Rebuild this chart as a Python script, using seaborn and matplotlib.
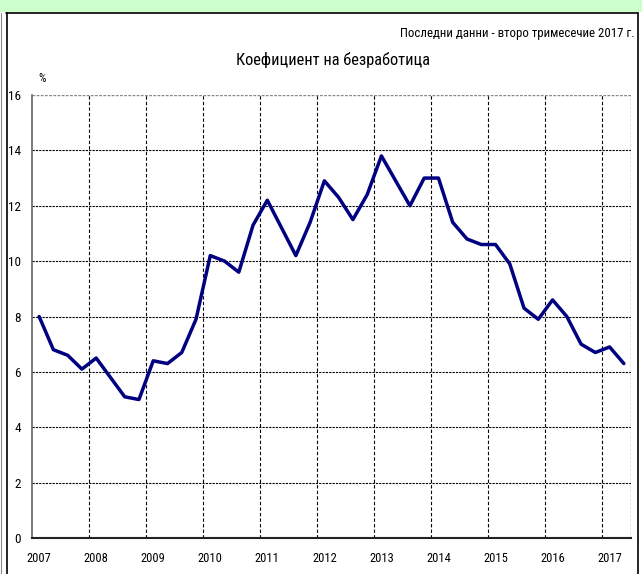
import matplotlib

matplotlib.use("Agg")
import matplotlib.pyplot as plt  # noqa: E402
import pandas as pd  # noqa: E402
import seaborn as sns  # noqa: E402
from matplotlib import font_manager  # noqa: E402
from matplotlib.lines import Line2D  # noqa: E402
from matplotlib.patches import Rectangle  # noqa: E402

# quarterly unemployment rate, 2007 Q1 .. 2017 Q2
years = list(range(2007, 2018))
quarters = [f"{y}Q{q}" for y in years for q in range(1, 5)][:42]
rate = [
    8.0, 6.8, 6.6, 6.1,
    6.5, 5.8, 5.1, 5.0,
    6.4, 6.3, 6.7, 7.9,
    10.2, 10.0, 9.6, 11.3,
    12.2, 11.2, 10.2, 11.4,
    12.9, 12.3, 11.5, 12.4,
    13.8, 12.9, 12.0, 13.0,
    13.0, 11.4, 10.8, 10.6,
    10.6, 9.9, 8.3, 7.9,
    8.6, 8.0, 7.0, 6.7,
    6.9, 6.3,
]
y_ticks = [0, 2, 4, 6, 8, 10, 12, 14, 16]

title = "Коефициент на безработица"
subtitle = "Последни данни - второ тримесечие 2017 г."

df = pd.DataFrame({"quarter": quarters, "rate": rate})
df["pos"] = range(len(df))

sns.set_style("white")
# pick a narrow face if one is around
names = {f.name for f in font_manager.fontManager.ttflist}
narrow = [n for n in ["Liberation Sans Narrow", "DejaVu Sans Condensed", "Roboto Condensed"] if n in names]
plt.rcParams["font.family"] = narrow + ["DejaVu Sans"]
plt.rcParams["font.stretch"] = "condensed"
plt.rcParams["text.color"] = "black"
plt.rcParams["xtick.color"] = "black"
plt.rcParams["ytick.color"] = "black"

fig = plt.figure(figsize=(6.42, 5.74), dpi=100)
ax = fig.add_axes([32 / 642, 1 - 538 / 574, (631 - 32) / 642, (538 - 95) / 574])

# light green strip and frame of the original page
fig.patches.append(Rectangle((0, 1 - 12 / 574), 1, 12 / 574, transform=fig.transFigure,
                             facecolor="#ccffcc", edgecolor="none"))
fig.lines.append(Line2D([6 / 642, 638 / 642], [1 - 13 / 574] * 2, transform=fig.transFigure,
                        color="black", lw=1.2))
fig.lines.append(Line2D([7 / 642] * 2, [0, 1 - 13 / 574], transform=fig.transFigure,
                        color="black", lw=1.2))
fig.lines.append(Line2D([1.5 / 642] * 2, [0, 1 - 13 / 574], transform=fig.transFigure,
                        color="#888888", lw=0.8))
fig.lines.append(Line2D([638 / 642] * 2, [0, 1 - 13 / 574], transform=fig.transFigure,
                        color="black", lw=1.2))

sns.lineplot(data=df, x="pos", y="rate", ax=ax, color="#000080", linewidth=2.5)

n = len(df)
ax.set_xlim(-0.5, n - 0.5)
ax.set_ylim(0, 16)
ax.set_yticks(y_ticks)
ax.set_yticklabels([str(v) for v in y_ticks], fontsize=9.5)

# year labels centred on first quarter, ticks/grid on year boundaries
ax.set_xticks(range(0, n, 4))
ax.set_xticklabels([str(y) for y in years], fontsize=9)
ax.set_xticks([i - 0.5 for i in range(4, n, 4)], minor=True)
ax.tick_params(axis="x", which="major", length=0, pad=10)
ax.tick_params(axis="x", which="minor", length=4, direction="inout", color="black")
ax.tick_params(axis="y", length=4, direction="out", color="#555555", pad=4)

ax.grid(False)
for y in y_ticks[1:-1]:
    ax.axhline(y, color="black", lw=0.8, ls=(0, (2, 1)), zorder=0)
ax.axhline(16, color="#888888", lw=1.0, ls=(0, (2, 1)), zorder=0)
for xb in range(4, n, 4):
    ax.axvline(xb - 0.5, color="black", lw=0.8, ls=(0, (3, 2)), zorder=0)
ax.axvline(n - 0.5, color="#888888", lw=1.0, ls=(0, (2, 1)), zorder=0)

for side in ["top", "right"]:
    ax.spines[side].set_visible(False)
ax.spines["left"].set_color("#666666")
ax.spines["left"].set_linewidth(1.2)
ax.spines["bottom"].set_color("#222222")
ax.spines["bottom"].set_linewidth(1.5)

ax.set_xlabel("")
ax.set_ylabel("")

fig.text(635 / 642, 1 - 33 / 574, subtitle, ha="right", va="center", fontsize=9.3)
fig.text(333 / 642, 1 - 60 / 574, title, ha="center", va="center", fontsize=11.8)
fig.text(42 / 642, 1 - 79 / 574, "%", ha="center", va="center", fontsize=8.5)

fig.savefig("out.png", dpi=100)
